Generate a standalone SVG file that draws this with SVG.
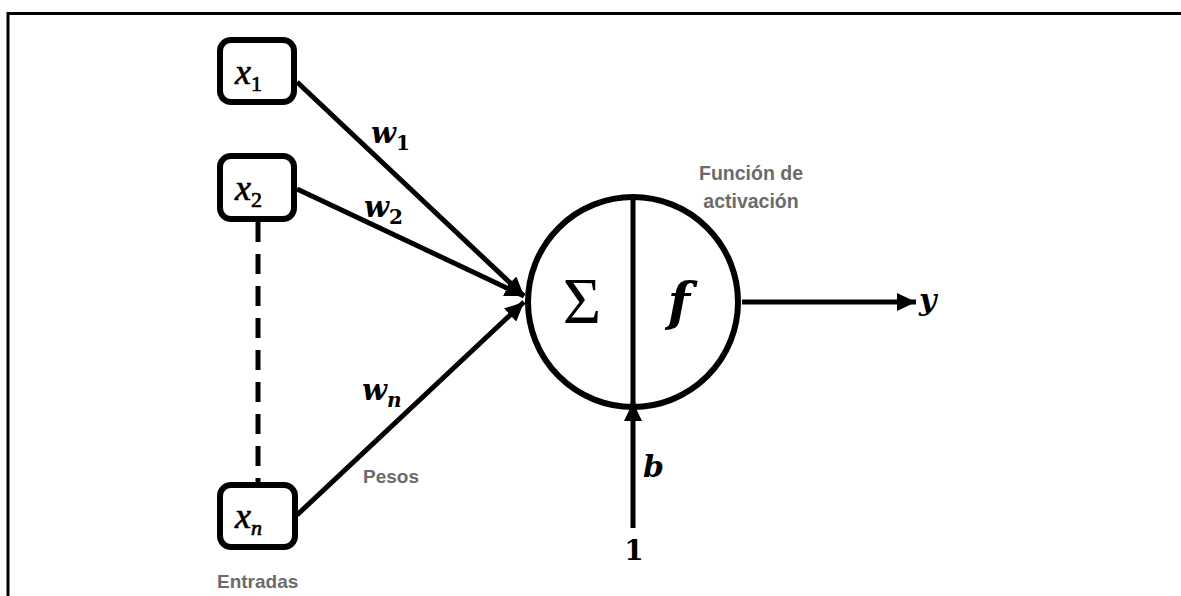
<svg xmlns="http://www.w3.org/2000/svg" width="1181" height="596" viewBox="0 0 1181 596">
<style>
.box{fill:#fff;stroke:#000;stroke-width:6}
.ln{stroke:#000;stroke-width:5;fill:none}
.math{font-family:"DejaVu Serif","Liberation Serif",serif;font-style:italic;fill:#000}
.xv{font-family:"Liberation Serif","DejaVu Serif",serif;font-style:italic;fill:#000;stroke:#000;stroke-width:0.7}
.up{font-style:normal}
.lbl{font-family:"Liberation Sans",Arial,sans-serif;font-weight:bold;fill:#6b6b6b}
</style>
<defs>
<marker id="ah" markerUnits="userSpaceOnUse" markerWidth="20" markerHeight="18" refX="19" refY="9" orient="auto">
<path d="M0,0 L19,9 L0,18 z" fill="#000"/>
</marker>
</defs>
<rect width="1181" height="596" fill="#fff"/>
<path d="M8,596 V13.5 H1181" fill="none" stroke="#000" stroke-width="3"/>
<g id="connectors">
<line class="ln" x1="297" y1="82" x2="524" y2="296" marker-end="url(#ah)"/>
<line class="ln" x1="297" y1="189" x2="524" y2="296" marker-end="url(#ah)"/>
<line class="ln" x1="297" y1="515" x2="524" y2="302" marker-end="url(#ah)"/>
<line x1="258" y1="222" x2="258" y2="482" stroke="#000" stroke-width="5" stroke-dasharray="20,12"/>
<line class="ln" x1="742" y1="302" x2="916" y2="302" marker-end="url(#ah)"/>
<line class="ln" x1="633" y1="528" x2="633" y2="402" marker-end="url(#ah)"/>
<text class="math" font-weight="bold" x="371" y="143" font-size="29">w<tspan class="up" font-size="20" dy="7">1</tspan></text>
<text class="math" font-weight="bold" x="364" y="217" font-size="29">w<tspan class="up" font-size="20" dy="7">2</tspan></text>
<text class="math" font-weight="bold" x="362" y="400" font-size="29">w<tspan font-size="20" dy="7">n</tspan></text>
<text class="lbl" x="363" y="483" font-size="19">Pesos</text>
<text class="math" font-weight="bold" x="919" y="310" font-size="30">y</text>
<text class="math" font-weight="bold" x="643" y="477" font-size="30">b</text>
<text class="math up" font-weight="bold" x="634" y="560" font-size="28" text-anchor="middle">1</text>
</g>
<g id="x1">
<rect class="box" x="220" y="40" width="74" height="62" rx="11"/>
<text class="xv" x="235" y="84" font-size="36">x<tspan class="up" font-size="22" dy="7">1</tspan></text>
</g>
<g id="x2">
<rect class="box" x="220" y="156" width="74" height="63" rx="11"/>
<text class="xv" x="235" y="200" font-size="36">x<tspan class="up" font-size="22" dy="7">2</tspan></text>
</g>
<g id="xn">
<rect class="box" x="220" y="485" width="75" height="62" rx="11"/>
<text class="xv" x="235" y="528" font-size="36">x<tspan font-size="22" dy="7">n</tspan></text>
<text class="lbl" x="217" y="588" font-size="19">Entradas</text>
</g>
<g id="neuron">
<circle cx="633" cy="302" r="105" fill="none" stroke="#000" stroke-width="6"/>
<line x1="633" y1="199" x2="633" y2="405" stroke="#000" stroke-width="5"/>
<text x="582" y="323" font-family="Liberation Serif,DejaVu Serif,serif" font-size="66" text-anchor="middle">Σ</text>
<text class="math" font-weight="bold" x="679" y="320" font-size="52" text-anchor="middle">f</text>
<text class="lbl" x="751" y="180" font-size="19.5" text-anchor="middle">Función de</text>
<text class="lbl" x="751" y="208" font-size="19.5" text-anchor="middle">activación</text>
</g>
</svg>
